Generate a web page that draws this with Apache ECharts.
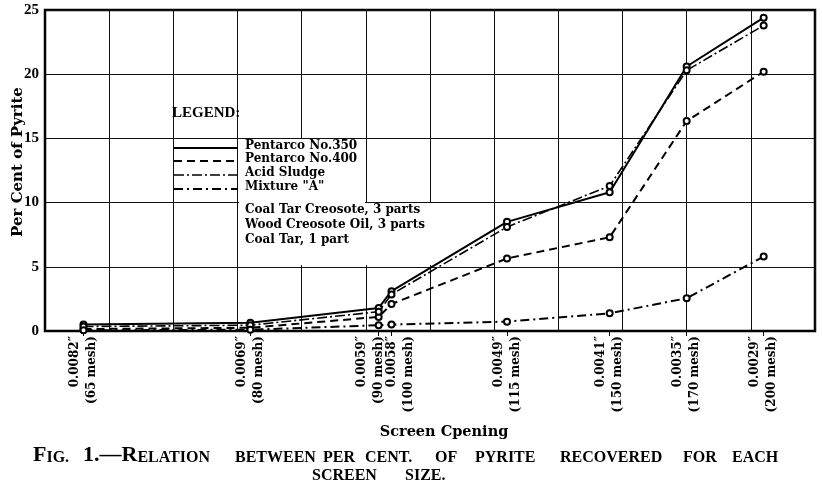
<!DOCTYPE html>
<html>
<head>
<meta charset="utf-8">
<script src="https://cdn.jsdelivr.net/npm/echarts@6/dist/echarts.min.js"></script>
<style>
html,body{margin:0;padding:0;background:#fff;}
#chart{width:822px;height:490px;}
</style>
</head>
<body>
<div id="chart"></div>
<script>
// ---- data ----
const openings = [0.0082, 0.0069, 0.0059, 0.0058, 0.0049, 0.0041, 0.0035, 0.0029];
const openingLabels = ['0.0082″', '0.0069″', '0.0059″', '0.0058″', '0.0049″', '0.0041″', '0.0035″', '0.0029″'];
const meshLabels = ['(65 mesh)', '(80 mesh)', '(90 mesh)', '(100 mesh)', '(115 mesh)', '(150 mesh)', '(170 mesh)', '(200 mesh)'];
const pentarco350 = [0.5, 0.65, 1.8, 3.1, 8.5, 10.8, 20.6, 24.4];
const pentarco400 = [0.15, 0.25, 1.1, 2.1, 5.65, 7.3, 16.35, 20.2];
const acidSludge = [0.35, 0.45, 1.5, 2.85, 8.1, 11.3, 20.3, 23.8];
const mixtureA = [0.05, 0.1, 0.45, 0.5, 0.73, 1.38, 2.55, 5.8];
const seriesNames = ['Pentarco No.350', 'Pentarco No.400', 'Acid Sludge', 'Mixture "A"'];
const mixtureNotes = ['Coal Tar Creosote, 3 parts', 'Wood Creosote Oil, 3 parts', 'Coal Tar, 1 part'];
const yTicks = [0, 5, 10, 15, 20, 25];

const dashes = [null, [8, 5], [10, 3, 2, 3], [9, 4, 2, 4]];
const widths = [2, 2, 1.6, 2];
const allData = [pentarco350, pentarco400, acidSludge, mixtureA];

const chart = echarts.init(document.getElementById('chart'), null, {renderer: 'canvas'});
const BOLD = 'DejaVu Serif';

function labelFor(v) {
  for (let i = 0; i < openings.length; i++) {
    if (Math.abs(v - openings[i]) < 1e-7) {
      const t = openingLabels[i] + '\n' + meshLabels[i];
      if (i === 2) return t + '\n\u00a0';
      if (i === 3) return '\u00a0\n' + t;
      return t;
    }
  }
  return '';
}

const series = allData.map((arr, k) => ({
  name: seriesNames[k],
  type: 'line',
  xAxisIndex: 0,
  yAxisIndex: 0,
  data: arr.map((v, i) => [openings[i], v]),
  symbol: 'emptyCircle',
  symbolSize: 6,
  showSymbol: true,
  itemStyle: {color: '#000', borderWidth: 1.2},
  lineStyle: {color: '#000', width: widths[k], type: dashes[k] || 'solid'},
  emphasis: {disabled: true},
  z: 5
}));

// legend graphics
const legendY = [148, 161, 175, 189];
const graphics = [];
graphics.push({
  type: 'polygon', z: 10,
  shape: {points: [[239,139],[365,139],[365,203],[440,203],[440,248],[431,248],[431,265],[239,265]]},
  style: {fill: '#fff'}
});
graphics.push({type: 'text', z: 12, x: 172, y: 113, style: {text: 'LEGEND:', font: 'bold 15px "Liberation Serif"', fill: '#000', verticalAlign: 'middle'}});
legendY.forEach((y, k) => {
  graphics.push({
    type: 'line', z: 12,
    shape: {x1: 174, y1: y, x2: 238, y2: y},
    style: {stroke: '#000', lineWidth: widths[k], lineDash: dashes[k] || null}
  });
  graphics.push({type: 'text', z: 12, x: 245, y: y - 2, style: {text: seriesNames[k], font: 'bold 12px "' + BOLD + '"', fill: '#000', verticalAlign: 'middle'}});
});
mixtureNotes.forEach((t, i) => {
  graphics.push({type: 'text', z: 12, x: 245, y: 210 + i * 15, style: {text: t, font: 'bold 12px "' + BOLD + '"', fill: '#000', verticalAlign: 'middle'}});
});
// axis names
graphics.push({type: 'text', z: 12, x: 18, y: 162, rotation: Math.PI / 2,
  style: {text: 'Per Cent of Pyrite', font: 'bold 15px "' + BOLD + '"', fill: '#000', align: 'center', verticalAlign: 'middle'}});
graphics.push({type: 'text', z: 12, x: 444, y: 432,
  style: {text: 'Screen Cpening', font: 'bold 14.5px "' + BOLD + '"', fill: '#000', align: 'center', verticalAlign: 'middle'}});
// caption
const rich = {
  b: {fontFamily: 'Liberation Serif', fontWeight: 'bold', fontSize: 22, lineHeight: 22, verticalAlign: 'bottom', fill: '#000', color: '#000'},
  s: {fontFamily: 'Liberation Serif', fontWeight: 'bold', fontSize: 16, lineHeight: 16, verticalAlign: 'bottom', fill: '#000', color: '#000'}
};
const captionWords = [
  [33, '{b|F}{s|IG.}'], [83, '{b|1.—R}{s|ELATION}'], [235, '{s|BETWEEN}'], [323, '{s|PER}'],
  [365, '{s|CENT.}'], [435, '{s|OF}'], [475, '{s|PYRITE}'], [560, '{s|RECOVERED}'],
  [683, '{s|FOR}'], [732, '{s|EACH}']
];
captionWords.forEach(([x, t]) => {
  graphics.push({type: 'text', z: 12, x: x, y: 466, style: {text: t, rich: rich, verticalAlign: 'bottom', fill: '#000'}});
});
graphics.push({type: 'text', z: 12, x: 312, y: 484, style: {text: '{s|SCREEN}', rich: rich, verticalAlign: 'bottom', fill: '#000'}});
graphics.push({type: 'text', z: 12, x: 405, y: 484, style: {text: '{s|SIZE.}', rich: rich, verticalAlign: 'bottom', fill: '#000'}});

const option = {
  backgroundColor: '#fff',
  animation: false,
  grid: {left: 45, top: 10, right: 7, bottom: 159, show: true, borderColor: '#000', borderWidth: 2.5, backgroundColor: 'transparent'},
  xAxis: [{
    type: 'value', inverse: true, min: 0.0025, max: 0.0085, interval: 0.0005,
    axisLine: {show: true, lineStyle: {color: '#000', width: 2}},
    axisTick: {show: false},
    axisLabel: {show: false},
    splitLine: {show: true, lineStyle: {color: '#111', width: 1}}
  }, {
    type: 'value', inverse: true, min: 0.0025, max: 0.0085, interval: 0.0005,
    position: 'bottom',
    axisLine: {show: false},
    axisTick: {show: true, customValues: openings, length: 5, lineStyle: {color: '#000', width: 1}},
    axisLabel: {
      show: true, customValues: openings, rotate: 90, margin: 5,
      formatter: labelFor,
      fontFamily: BOLD, fontWeight: 'bold', fontSize: 12, lineHeight: 17, color: '#000'
    },
    splitLine: {show: false}
  }],
  yAxis: {
    type: 'value', min: 0, max: 25, interval: 5,
    axisLine: {show: true, lineStyle: {color: '#000', width: 2}},
    axisTick: {show: false},
    axisLabel: {margin: 6, fontFamily: 'Liberation Serif', fontWeight: 'bold', fontSize: 15, color: '#000',
      formatter: v => (yTicks.indexOf(v) >= 0 ? String(v) : '')},
    splitLine: {show: true, lineStyle: {color: '#111', width: 1}}
  },
  series: series,
  graphic: graphics
};
chart.setOption(option);
</script>
</body>
</html>
